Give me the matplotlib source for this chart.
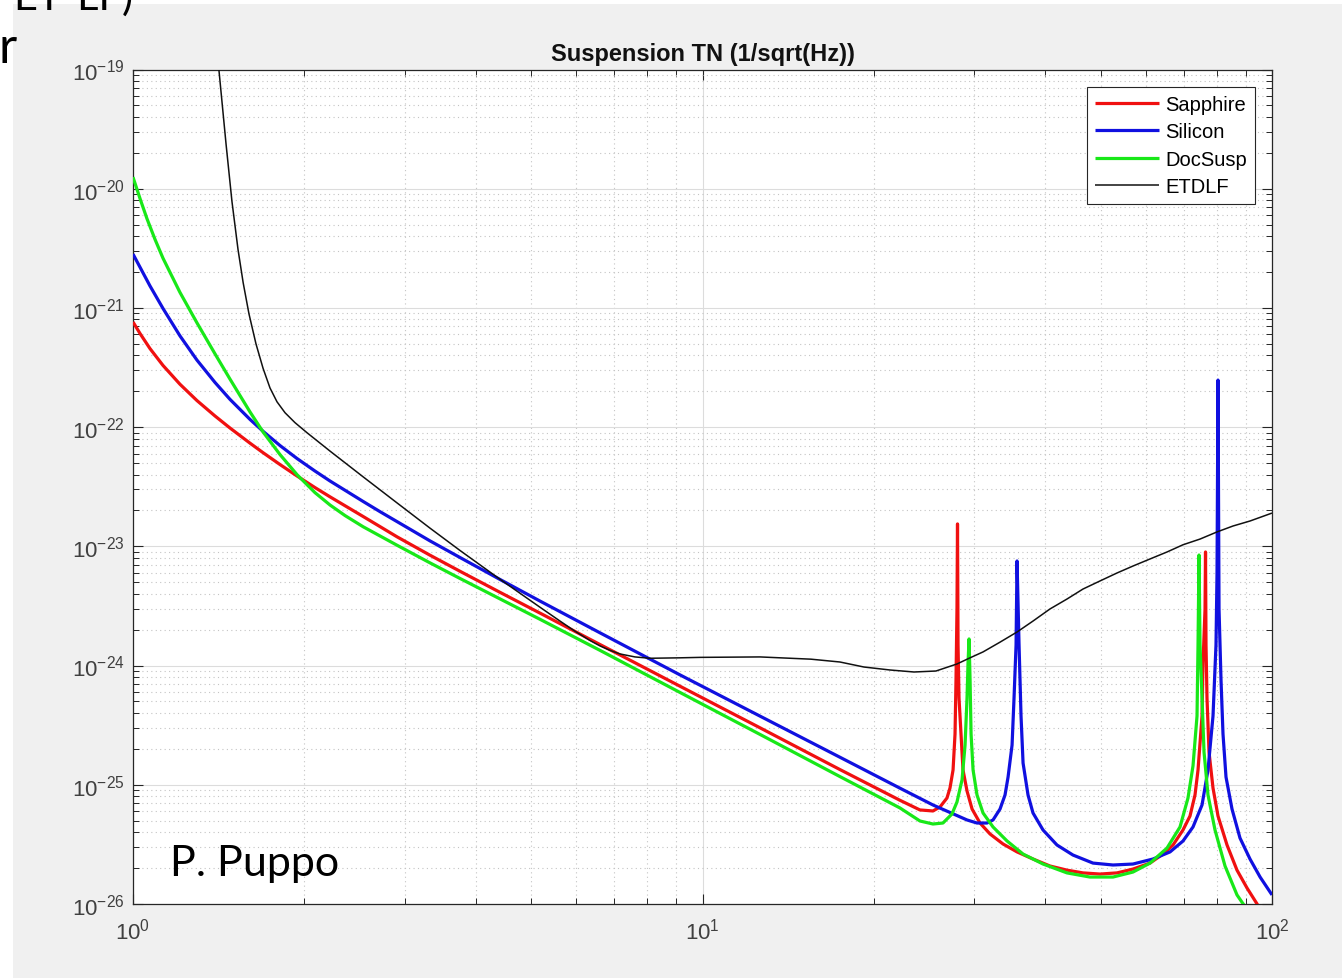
import numpy as np
import matplotlib
matplotlib.use("Agg")
import matplotlib.pyplot as plt
from matplotlib.patches import Rectangle
from matplotlib.ticker import LogLocator, NullFormatter

# ---------------- data ----------------
sapphire_f = [1.0, 1.029, 1.071, 1.129, 1.209, 1.295, 1.393, 1.480, 1.605, 1.692,
              1.812, 1.941, 2.087, 2.218, 2.535, 2.909, 3.323, 3.752, 4.410, 5.185,
              6.607, 9.131, 12.62, 17.43, 22.22, 24.09, 25.39, 26.12, 26.87, 27.20,
              27.54, 27.76, 27.87, 27.98, 28.04, 28.10, 28.21, 28.44, 28.67, 29.14,
              29.74, 30.71, 31.98, 33.71, 35.67, 38.05, 40.75, 43.65, 46.57, 49.89,
              53.43, 57.00, 61.07, 64.36, 67.02, 69.78, 71.78, 73.25, 74.15, 75.36,
              75.66, 76.28, 76.43, 76.58, 76.89, 77.52, 78.78, 80.39, 83.37, 86.80,
              90.39, 94.15, 99.19]
sapphire_v = [7.62e-22, 6.09e-22, 4.56e-22, 3.29e-22, 2.29e-22, 1.67e-22, 1.24e-22, 9.83e-23, 7.33e-23, 6.10e-23,
              4.85e-23, 3.89e-23, 3.11e-23, 2.60e-23, 1.78e-23, 1.20e-23, 8.42e-24, 6.17e-24, 4.11e-24, 2.75e-24,
              1.50e-24, 6.70e-25, 3.00e-25, 1.34e-25, 7.40e-26, 6.14e-26, 6.02e-26, 6.50e-26, 7.73e-26, 9.38e-26,
              1.33e-25, 2.66e-25, 7.56e-25, 2.98e-24, 1.54e-23, 1.49e-24, 5.34e-25, 2.66e-25, 1.33e-25, 8.85e-26,
              6.25e-26, 4.77e-26, 3.86e-26, 3.18e-26, 2.73e-26, 2.38e-26, 2.08e-26, 1.92e-26, 1.82e-26, 1.78e-26,
              1.82e-26, 1.96e-26, 2.20e-26, 2.62e-26, 3.12e-26, 4.17e-26, 5.46e-26, 8.20e-26, 1.33e-25, 3.77e-25,
              1.05e-24, 2.98e-24, 8.96e-24, 1.49e-24, 5.34e-25, 1.88e-25, 9.38e-26, 5.46e-26, 3.12e-26, 1.92e-26,
              1.36e-26, 9.98e-27, 6.16e-27]

silicon_f = [1.0, 1.029, 1.071, 1.129, 1.209, 1.295, 1.393, 1.480, 1.605, 1.692,
             1.812, 1.941, 2.087, 2.218, 2.535, 2.716, 2.909, 3.323, 3.752, 4.410,
             5.185, 6.607, 9.131, 12.62, 17.43, 22.22, 25.39, 29.14, 30.34, 31.59,
             32.37, 33.30, 33.98, 34.40, 34.96, 35.24, 35.53, 35.67, 35.96, 36.25,
             36.55, 37.29, 38.05, 39.62, 41.92, 44.72, 48.49, 52.58, 57.00, 61.81,
             66.22, 69.78, 72.66, 75.36, 77.20, 78.78, 79.74, 80.07, 80.39, 80.72,
             81.37, 82.03, 83.03, 85.07, 87.86, 91.49, 95.30, 100.0]
silicon_v = [2.83e-21, 2.19e-21, 1.53e-21, 9.89e-22, 5.83e-22, 3.65e-22, 2.37e-22, 1.71e-22, 1.16e-22, 9.22e-23,
             7.00e-23, 5.45e-23, 4.28e-23, 3.53e-23, 2.38e-23, 1.95e-23, 1.61e-23, 1.11e-23, 8.05e-24, 5.27e-24,
             3.47e-24, 1.88e-24, 8.34e-25, 3.76e-25, 1.70e-25, 9.35e-26, 6.76e-26, 5.06e-26, 4.77e-26, 4.77e-26,
             5.06e-26, 6.25e-26, 8.20e-26, 1.16e-25, 2.15e-25, 5.34e-25, 1.49e-24, 7.53e-24, 1.49e-24, 3.77e-25,
             1.52e-25, 8.20e-26, 5.79e-26, 4.17e-26, 3.12e-26, 2.57e-26, 2.20e-26, 2.12e-26, 2.16e-26, 2.38e-26,
             2.73e-26, 3.37e-26, 4.42e-26, 6.76e-26, 1.33e-25, 3.77e-25, 1.49e-24, 5.97e-24, 2.48e-22, 2.98e-24,
             7.56e-25, 2.66e-25, 1.16e-25, 6.25e-26, 3.57e-26, 2.38e-26, 1.68e-26, 1.19e-26]

docsusp_f = [1.0, 1.029, 1.058, 1.093, 1.129, 1.209, 1.295, 1.393, 1.480, 1.605,
             1.692, 1.812, 1.941, 2.087, 2.218, 2.357, 2.535, 2.909, 3.323, 3.752,
             4.410, 5.185, 6.607, 9.131, 12.62, 17.43, 22.22, 24.09, 25.39, 26.44,
             27.42, 27.98, 28.56, 28.91, 29.14, 29.26, 29.38, 29.50, 29.62, 29.86,
             30.34, 31.09, 32.37, 34.26, 36.55, 39.62, 43.65, 47.90, 52.58, 57.00,
             61.07, 65.41, 68.94, 71.20, 72.66, 73.85, 74.15, 74.45, 74.75, 75.36,
             75.97, 77.20, 79.42, 82.70, 86.80, 90.75]
docsusp_v = [1.25e-20, 8.24e-21, 5.61e-21, 3.76e-21, 2.61e-21, 1.35e-21, 7.50e-22, 4.12e-22, 2.53e-22, 1.34e-22,
             9.10e-23, 5.88e-23, 3.99e-23, 2.82e-23, 2.22e-23, 1.81e-23, 1.46e-23, 1.02e-23, 7.26e-24, 5.37e-24,
             3.62e-24, 2.44e-24, 1.34e-24, 5.94e-25, 2.64e-25, 1.17e-25, 6.38e-26, 4.96e-26, 4.68e-26, 4.77e-26,
             5.68e-26, 7.16e-26, 1.10e-25, 2.15e-25, 5.34e-25, 1.05e-24, 1.67e-24, 7.56e-25, 2.66e-25, 1.33e-25,
             8.20e-26, 5.79e-26, 4.42e-26, 3.37e-26, 2.62e-26, 2.16e-26, 1.82e-26, 1.68e-26, 1.68e-26, 1.85e-26,
             2.20e-26, 2.94e-26, 4.42e-26, 7.73e-26, 1.44e-25, 3.77e-25, 1.49e-24, 8.45e-24, 1.49e-24, 5.34e-25,
             1.88e-25, 8.20e-26, 4.17e-26, 2.08e-26, 1.19e-26, 8.72e-27]

etdlf_f = [1.376, 1.416, 1.457, 1.492, 1.529, 1.561, 1.598, 1.644, 1.692, 1.740,
           1.790, 1.849, 1.925, 2.021, 2.218, 2.535, 2.909, 3.323, 3.752, 4.410,
           5.185, 5.620, 5.971, 6.346, 6.607, 6.879, 7.163, 7.611, 8.088, 9.131,
           9.900, 12.62, 15.50, 17.43, 19.21, 21.34, 23.52, 25.70, 27.98, 29.50,
           31.09, 33.30, 35.67, 38.05, 40.75, 43.65, 46.57, 49.89, 53.43, 57.00,
           61.07, 65.41, 69.78, 74.75, 80.07, 85.41, 91.49, 100.0]
etdlf_v = [3.90e-19, 9.71e-20, 2.35e-20, 7.81e-21, 3.09e-21, 1.63e-21, 8.94e-22, 5.00e-22, 3.11e-22, 2.13e-22,
           1.63e-22, 1.32e-22, 1.09e-22, 8.97e-23, 6.29e-23, 3.83e-23, 2.31e-23, 1.42e-23, 9.22e-24, 5.29e-24,
           3.08e-24, 2.36e-24, 1.94e-24, 1.62e-24, 1.46e-24, 1.34e-24, 1.25e-24, 1.18e-24, 1.15e-24, 1.16e-24,
           1.17e-24, 1.18e-24, 1.13e-24, 1.07e-24, 9.71e-25, 9.17e-25, 8.82e-25, 8.99e-25, 1.03e-24, 1.16e-24,
           1.30e-24, 1.57e-24, 1.91e-24, 2.36e-24, 2.98e-24, 3.61e-24, 4.38e-24, 5.12e-24, 5.97e-24, 6.83e-24,
           7.83e-24, 8.96e-24, 1.03e-23, 1.15e-23, 1.32e-23, 1.48e-23, 1.63e-23, 1.90e-23]

series_labels = ["Sapphire", "Silicon", "DocSusp", "ETDLF"]
title_text = "Suspension TN (1/sqrt(Hz))"
xtick_vals = [1, 10, 100]
xtick_labels = [r"$10^{0}$", r"$10^{1}$", r"$10^{2}$"]
ytick_exps = [-26, -25, -24, -23, -22, -21, -20, -19]
ytick_labels = [r"$10^{%d}$" % e for e in ytick_exps]

# ---------------- style ----------------
plt.rcParams["font.family"] = ["Liberation Sans", "DejaVu Sans"]
plt.rcParams["mathtext.fontset"] = "custom"
plt.rcParams["mathtext.rm"] = "Liberation Sans"
plt.rcParams["mathtext.it"] = "Liberation Sans:italic"
plt.rcParams["mathtext.bf"] = "Liberation Sans:bold"
plt.rcParams["axes.unicode_minus"] = False

W, H = 1342, 979
fig = plt.figure(figsize=(W / 100, H / 100), dpi=100)
fig.patch.set_facecolor("white")
fig.add_artist(Rectangle((13 / W, 0), 1, (H - 5) / H, transform=fig.transFigure,
                         facecolor="#f0f0f0", edgecolor="none", zorder=-10))

ax = fig.add_axes([133 / W, 1 - 904.9 / H, (1272 - 133) / W, (904.9 - 70.5) / H])
ax.set_facecolor("white")
ax.set_xscale("log")
ax.set_yscale("log")

kw = dict(solid_joinstyle="round", solid_capstyle="butt")
ax.plot(sapphire_f, sapphire_v, color="#f01010", lw=2.3, label=series_labels[0], zorder=3, **kw)
ax.plot(silicon_f, silicon_v, color="#1010e0", lw=2.3, label=series_labels[1], zorder=3, **kw)
ax.plot(docsusp_f, docsusp_v, color="#18e818", lw=2.3, label=series_labels[2], zorder=3, **kw)
ax.plot(etdlf_f, etdlf_v, color="#111111", lw=1.1, label=series_labels[3], zorder=4, **kw)

ax.set_xlim(1, 100)
ax.set_ylim(1e-26, 1e-19)

ax.set_xticks(xtick_vals)
ax.set_xticklabels(xtick_labels)
ax.set_yticks([10.0 ** e for e in ytick_exps])
ax.set_yticklabels(ytick_labels)
ax.xaxis.set_minor_locator(LogLocator(base=10, subs=np.arange(2, 10), numticks=100))
ax.yaxis.set_minor_locator(LogLocator(base=10, subs=np.arange(2, 10), numticks=100))
ax.xaxis.set_minor_formatter(NullFormatter())
ax.yaxis.set_minor_formatter(NullFormatter())

ax.tick_params(which="both", direction="in", top=True, right=True, color="#262626")
ax.tick_params(which="major", length=7, width=0.8, labelsize=16, labelcolor="#404040")
ax.tick_params(axis="x", which="major", pad=10)
ax.tick_params(axis="y", which="major", pad=6)
ax.tick_params(which="minor", length=4.5, width=0.7)

ax.grid(which="major", color="#dcdcdc", linestyle="-", linewidth=0.8)
ax.grid(which="minor", color="#c4c4c4", linestyle=(0, (1, 3)), linewidth=0.8)
ax.set_axisbelow(True)
for sp in ax.spines.values():
    sp.set_color("#262626")
    sp.set_linewidth(0.9)

ax.set_title(title_text, fontsize=17, fontweight="bold", pad=7, color="#111111")

leg = ax.legend(loc="upper right", bbox_to_anchor=((1255 - 133) / 1139, (904.9 - 88) / 834.4),
                fontsize=14.5, frameon=True, fancybox=False, edgecolor="#262626",
                framealpha=1, handlelength=3.2, handletextpad=0.3, labelspacing=0.42,
                borderpad=0.39, borderaxespad=0)
leg.get_frame().set_linewidth(0.8)

fig.text(170 / W, 1 - 876 / H, "P. Puppo", fontfamily="Lato", fontsize=31,
         va="baseline", ha="left", color="black")
fig.text(-2 / W, 1 - 63 / H, "r", fontfamily="Lato", fontsize=36, va="baseline", ha="left")
fig.text(13 / W, 1 - 10 / H, "ET-LF)", fontfamily="Lato", fontsize=30, va="baseline", ha="left")

fig.savefig("out.png", dpi=100, facecolor=fig.get_facecolor())
